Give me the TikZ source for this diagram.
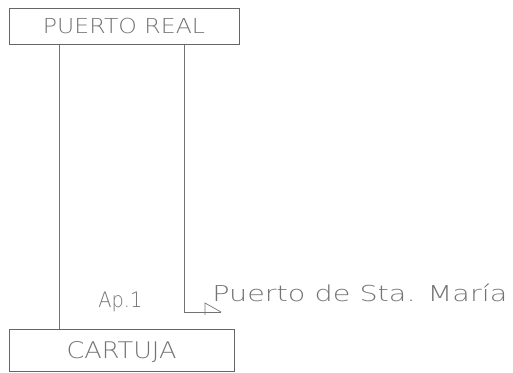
\documentclass[tikz,border=0pt]{standalone}
\usepackage{fontspec}
\newfontfamily\cadfont{DejaVu Sans ExtraLight}
\usepackage{graphicx}
\begin{document}
\begin{tikzpicture}[x=1pt,y=-1pt,
  line width=0.7pt,
  boxst/.style={draw=black!60,inner sep=0pt,text depth=0pt,text=black!55,font=\cadfont\fontsize{20}{20}\selectfont},
  wire/.style={draw=black!55},
  lbl/.style={inner sep=0pt,text=black!55,font=\cadfont\fontsize{20}{20}\selectfont}]
\useasboundingbox (0,0) rectangle (513,372);
\node[boxst,minimum width=230pt,minimum height=36.5pt] (pr) at (124,26.3)
  {\resizebox{162pt}{15.3pt}{PUERTO REAL}\hspace{20pt}};
\node[boxst,minimum width=225pt,minimum height=42pt] (ca) at (121.5,350)
  {\resizebox{110pt}{17pt}{CARTUJA}\hspace{3pt}};
\node[lbl,anchor=base west] (ap) at (98,307.7) {\resizebox{44pt}{15.5pt}{Ap.1}};
\node[lbl,anchor=base west] (psm) at (212,301) {\resizebox{295pt}{17.5pt}{Puerto de Sta. María}};
\coordinate (tip) at (221,312);
\draw[wire] (pr.south -| 59,0) -- (ca.north -| 59,0);
\draw[wire] (pr.south -| 184,0) |- (tip);
\draw[wire] (tip) -- (205,303) -- (205,315);
\end{tikzpicture}
\end{document}
